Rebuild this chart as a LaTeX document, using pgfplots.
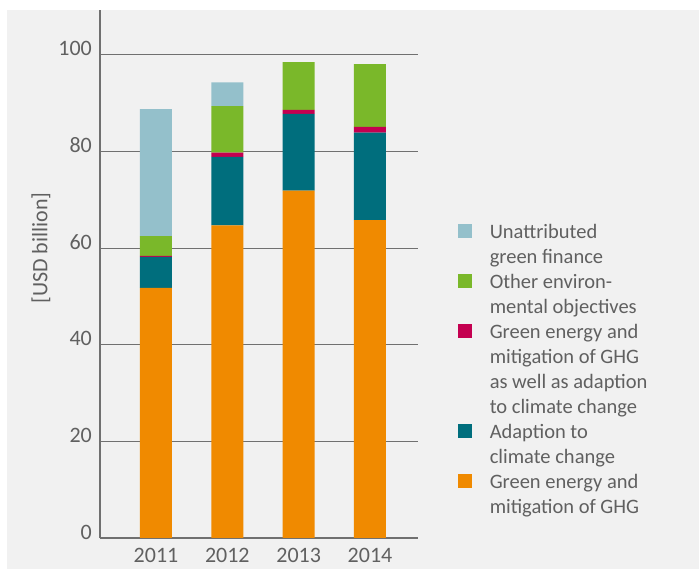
\documentclass[border=0pt]{standalone}
\usepackage{pgfplots}
\pgfplotsset{compat=1.18}
\usepackage{fontspec}
\setmainfont{Carlito}
\definecolor{bg}{RGB}{241,241,241}
\definecolor{cOrange}{RGB}{240,138,0}
\definecolor{cTeal}{RGB}{0,110,125}
\definecolor{cRed}{RGB}{196,0,80}
\definecolor{cGreen}{RGB}{122,184,42}
\definecolor{cBlue}{RGB}{148,192,203}
\definecolor{txt}{RGB}{96,96,96}
\definecolor{gridc}{RGB}{112,112,112}
\begin{document}
\begin{tikzpicture}
\fill[white] (0,0) rectangle (699bp,569bp);
\useasboundingbox (0,0) rectangle (699bp,569bp);
\fill[bg] (7bp,0) rectangle (699bp,559bp);
\begin{axis}[
  at={(100bp,31bp)}, anchor=south west, scale only axis,
  width=318bp, height=528bp,
  ybar stacked, bar width=32bp,
  xmin=-0.785, xmax=3.673, ymin=0, ymax=109.3,
  xtick={0,1,2,3}, xticklabels={2011,2012,2013,2014},
  ytick={0,20,40,60,80,100},
  axis x line*=bottom, axis y line*=left,
  axis line style={gridc, line width=1.2bp, -},
  ymajorgrids, grid style={gridc, line width=1bp},
  major tick length=0pt, tick style={draw=none},
  ticklabel style={font=\fontsize{22bp}{26bp}\selectfont, text=txt, inner sep=0pt},
  /pgf/number format/assume math mode=true,
  xticklabel style={anchor=north, yshift=-10bp},
  yticklabel style={anchor=base east, xshift=-8bp, yshift=-1bp},
  ylabel={[USD billion]},
  ylabel style={at={(axis description cs:-0.1855,0.549)}, anchor=center, rotate=0,
    font=\fontsize{22bp}{26bp}\selectfont, text=txt, inner sep=0pt},
  legend style={at={(axis description cs:1.125,0.601)}, anchor=north west,
    draw=none, fill=none, inner sep=0pt, outer sep=0pt, row sep=6bp,
    column sep=18bp, cells={anchor=base west},
    nodes={inner sep=0pt, text=txt},
    font=\fontsize{20.5bp}{25bp}\selectfont},
  legend image code/.code={\fill[#1] (0bp,0bp) rectangle (14bp,14bp);},
]
\addplot[fill=cOrange, draw=none, forget plot] coordinates {(0,51.8) (1,64.7) (2,71.9) (3,65.8)};
\addplot[fill=cTeal, draw=none, forget plot] coordinates {(0,6.4) (1,14.2) (2,15.9) (3,18.1)};
\addplot[fill=cRed, draw=none, forget plot] coordinates {(0,0.2) (1,0.9) (2,0.8) (3,1.2)};
\addplot[fill=cGreen, draw=none, forget plot] coordinates {(0,4.1) (1,9.6) (2,9.9) (3,13.0)};
\addplot[fill=cBlue, draw=none, forget plot] coordinates {(0,26.3) (1,4.9) (2,0) (3,0)};
\addlegendimage{fill=cBlue, draw=none}
\addlegendentry{\strut Unattributed}
\addlegendimage{empty legend}
\addlegendentry{\strut green finance}
\addlegendimage{fill=cGreen, draw=none}
\addlegendentry{\strut Other environ-}
\addlegendimage{empty legend}
\addlegendentry{\strut mental objectives}
\addlegendimage{fill=cRed, draw=none}
\addlegendentry{\strut Green energy and}
\addlegendimage{empty legend}
\addlegendentry{\strut mitigation of GHG}
\addlegendimage{empty legend}
\addlegendentry{\strut as well as adaption}
\addlegendimage{empty legend}
\addlegendentry{\strut to climate change}
\addlegendimage{fill=cTeal, draw=none}
\addlegendentry{\strut Adaption to}
\addlegendimage{empty legend}
\addlegendentry{\strut climate change}
\addlegendimage{fill=cOrange, draw=none}
\addlegendentry{\strut Green energy and}
\addlegendimage{empty legend}
\addlegendentry{\strut mitigation of GHG}
\end{axis}
\end{tikzpicture}
\end{document}
